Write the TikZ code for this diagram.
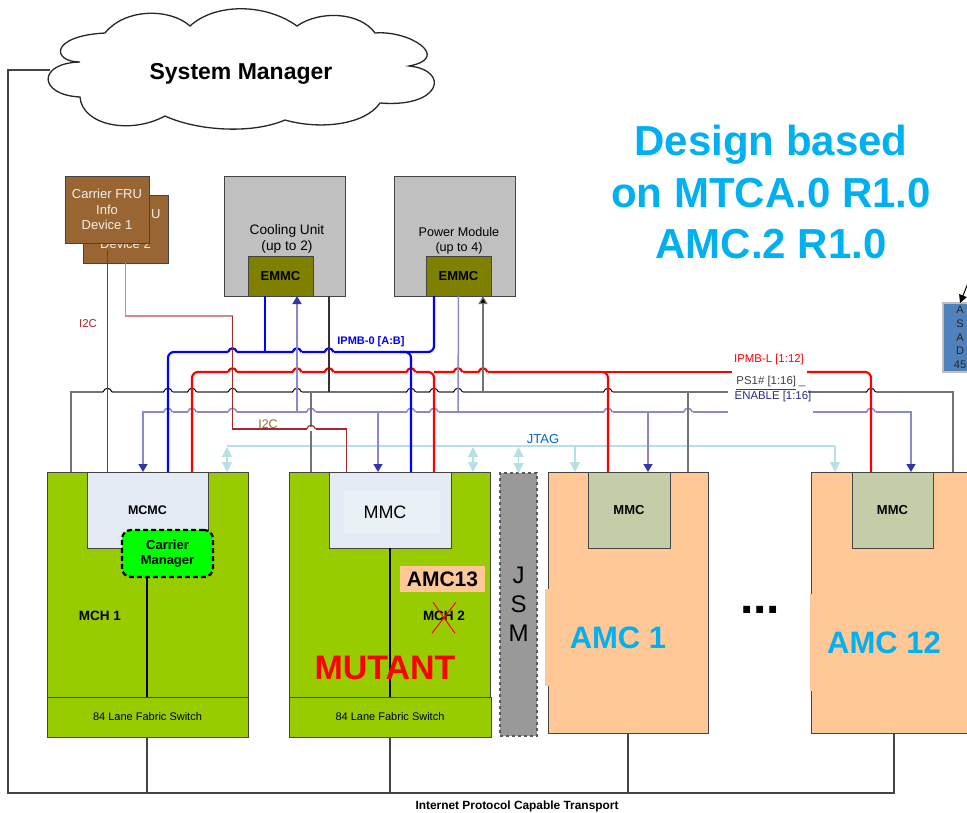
\documentclass[tikz,border=0pt]{standalone}
\usepackage{fontspec}
\setmainfont{Liberation Sans}
\usepackage{tikz}
\usetikzlibrary{arrows.meta}
\definecolor{mchgreen}{HTML}{99CC00}
\definecolor{amcpeach}{HTML}{FFC896}
\definecolor{frubrown}{HTML}{996633}
\definecolor{unitgrey}{HTML}{C0C0C0}
\definecolor{emmcolive}{HTML}{808000}
\definecolor{mcmcblue}{HTML}{E4EBF5}
\definecolor{mmcsage}{HTML}{C4CCA8}
\definecolor{edgegrey}{HTML}{444444}
\definecolor{enablepurple}{HTML}{8A8AC8}
\definecolor{enabletip}{HTML}{3535A5}
\definecolor{jtagblue}{HTML}{B8E0E4}
\definecolor{titlecyan}{HTML}{00B0F0}
\definecolor{asadblue}{HTML}{4F81BD}
\definecolor{i2cred}{HTML}{A82828}
\newcommand{\fsz}[1]{\fontsize{#1pt}{1.17\dimexpr#1pt\relax}\selectfont}
\newcommand{\hops}[3]{\foreach \hx in {#3} {\fill[white] (\hx-4.5,#2-1.7) rectangle (\hx+4.5,#2+1.7); \draw[#1] (\hx-4.5,#2) .. controls (\hx-2.5,#2-5) and (\hx+2.5,#2-5) .. (\hx+4.5,#2);}}
\tikzset{
  box/.style={draw=edgegrey, line width=1pt, inner sep=0pt, outer sep=0pt, align=center, font=\fsz{13}},
  plain/.style={inner sep=0pt, outer sep=0pt, align=center},
  mch/.style={box, fill=mchgreen},
  amc/.style={box, fill=amcpeach},
  ctrl/.style={box, font=\fsz{13}\bfseries},
  ipmbz/.style={draw=blue, line width=2.2pt, rounded corners=6pt},
  ipmbl/.style={draw=red, line width=2.2pt, rounded corners=6pt},
  psbus/.style={draw=gray!90!black, line width=1.2pt},
  enbus/.style={draw=enablepurple, line width=1.5pt},
  i2cline/.style={draw=i2cred, line width=1.2pt},
  hopgrey/.style={draw=black, line width=1pt},
  jtag/.style={draw=jtagblue, line width=1.2pt},
  lan/.style={draw=edgegrey, line width=1.8pt},
  fabric/.style={draw=black, line width=2.6pt},
  entip/.style={-{Triangle[length=8pt,width=9pt,fill=enabletip,color=enabletip]}},
  jtagdown/.style={-{Triangle[length=10pt,width=10pt,fill=jtagblue,color=jtagblue]}},
  jtagboth/.style={{Triangle[length=10pt,width=10pt,fill=jtagblue,color=jtagblue]}-{Triangle[length=10pt,width=10pt,fill=jtagblue,color=jtagblue]}},
}
\begin{document}
\begin{tikzpicture}[x=1pt,y=-1pt]
\useasboundingbox (0,0) rectangle (967,812);
\clip (0,0) rectangle (967,812);
\draw[line width=1.3pt, draw=black!85, fill=white] (80,62) .. controls (52,62) and (49,36) .. (105,33) .. controls (125,8) and (170,8) .. (190,26) .. controls (215,3) and (265,3) .. (297,26) .. controls (320,10) and (360,12) .. (375,33) .. controls (410,30) and (452,58) .. (409,66) .. controls (450,70) and (442,108) .. (380,103) .. controls (365,125) and (320,130) .. (285,120) .. controls (250,135) and (195,130) .. (165,116) .. controls (130,135) and (82,125) .. (80,97) .. controls (38,95) and (37,63) .. (80,62) -- cycle;
\node[plain, font=\fsz{23}\bfseries] (sysman) at (241,73.5) {System Manager};
\coordinate (cloudleft) at (50,70);
\node[plain, font=\fsz{42}\bfseries, text=titlecyan] (design) at (771,192) {Design based\\[2.5pt]on MTCA.0 R1.0\\[2.5pt]AMC.2 R1.0};

\node[box, fill=frubrown, minimum width=85, minimum height=68, text=white!90!frubrown] (frutwo) at (125.5,229) {Carrier FRU\\Info\\Device 2};
\node[box, fill=frubrown, minimum width=84, minimum height=67, text=white!90!frubrown] (fruone) at (107,209.5) {Carrier FRU\\Info\\Device 1};
\node[box, fill=unitgrey, minimum width=121, minimum height=120] (cool) at (284.5,236) {};
\node[plain, font=\fsz{13.7}] (coollbl) at (287,238.5) {Cooling Unit\\(up to 2)};
\node[ctrl, fill=emmcolive, minimum width=65, minimum height=40] (coolemmc) at (280.5,276) {EMMC};
\node[box, fill=unitgrey, minimum width=121, minimum height=120] (power) at (454.5,236) {};
\node[plain, font=\fsz{12.6}] (powerlbl) at (459,240.5) {Power Module\\(up to 4)};
\node[ctrl, fill=emmcolive, minimum width=65, minimum height=40] (poweremmc) at (458.5,276) {EMMC};

\node[mch, minimum width=201, minimum height=265] (mchone) at (147.5,604.5) {};
\node[mch, minimum width=201, minimum height=265] (mchtwo) at (390,604.5) {};
\node[box, fill=black!40, draw=gray!70!black, dashed, line width=1.2pt, minimum width=37, minimum height=263, font=\fsz{24}] (jsm) at (518.5,604.5) {J\\[1pt]S\\[1pt]M};
\node[amc, minimum width=160, minimum height=261] (amcone) at (628,602.5) {};
\node[amc, minimum width=166, minimum height=261] (amctwelve) at (894,602.5) {};
\node[box, fill=mcmcblue, minimum width=121, minimum height=76, font=\fsz{12.5}\bfseries] (mcmc) at (147.5,510) {MCMC};
\node[box, fill=mcmcblue, minimum width=122, minimum height=76] (mmctwo) at (390,510) {};
\node[plain, fill=white!60!mcmcblue!80!jtagblue, minimum width=96, minimum height=42, font=\fsz{18}] (mmctwotxt) at (392,512) {MMC\hspace{14pt}};
\node[ctrl, fill=mmcsage, minimum width=82, minimum height=76] (mmcone) at (629,510) {MMC};
\node[ctrl, fill=mmcsage, minimum width=81, minimum height=76] (mmctwelve) at (892.5,510) {MMC};
\node[mch, minimum width=201, minimum height=40, font=\fsz{11}] (swone) at (147.5,717) {84 Lane Fabric Switch};
\node[mch, minimum width=202, minimum height=40, font=\fsz{11}] (swtwo) at (390,717) {84 Lane Fabric Switch};
\node[box, fill=green, draw=black, dash pattern=on 5pt off 3pt, line width=2.2pt, rounded corners=9pt, minimum width=91, minimum height=47, font=\fsz{13}\bfseries] (carman) at (167.5,553.5) {Carrier\\Manager};
\draw[fabric] ([xshift=-20.5]carman.south) -- ([xshift=-0.5]swone.north);
\draw[fabric] (mmctwo.south) -- (swtwo.north);
\node[plain, font=\fsz{13.5}\bfseries] (mchonelbl) at (100,616) {MCH 1};
\node[plain, fill=amcpeach, minimum width=85, minimum height=26, font=\fsz{21}\bfseries] (amcthirteen) at (442.5,579) {AMC13};
\node[plain, font=\fsz{13.5}\bfseries] (mchtwolbl) at (444,616) {MCH 2};
\draw[red, line width=1pt] (mchtwolbl.north west) ++(10,-9) -- ++(22,31);
\draw[red, line width=1pt] (mchtwolbl.north west) ++(33,-9) -- ++(-24,31);
\node[plain, font=\fsz{34}\bfseries, text=red] (mutant) at (385,668) {MUTANT};
\node[plain, fill=amcpeach, minimum width=146, minimum height=97, font=\fsz{31}\bfseries, text=titlecyan] (amconelbl) at (618,637.5) {AMC 1};
\node[plain, fill=amcpeach, minimum width=148, minimum height=97, font=\fsz{31}\bfseries, text=titlecyan] (amctwelvelbl) at (884,642.5) {AMC 12};
\node[plain, anchor=base, font=\fsz{48}\bfseries] (dots) at (760,613) {...};

\node[box, fill=asadblue, draw=black!25, line width=2pt, minimum width=34, minimum height=69, font=\fsz{11}, text=black!85] (asad) at (960,337.5) {A\\[.8pt]S\\[.8pt]A\\[.8pt]D\\[.8pt]45};
\coordinate (asadin) at (968,283);
\draw[-{Triangle[length=8pt,width=8pt]}, draw=black, line width=1pt] (asadin) -- (asad.north);

\draw[jtag] (227,446) -- (835,446);
\draw[jtag, jtagboth] (227,447) -- ([xshift=79.5]mchone.north);
\draw[jtag, jtagboth] (473,447) -- ([xshift=83]mchtwo.north);
\draw[jtag, jtagboth] (518.5,447) -- (jsm.north);
\draw[jtag, jtagdown] (575,446) -- ([xshift=-53]amcone.north);
\draw[jtag, jtagdown] (835,446) -- ([xshift=-59]amctwelve.north);

\draw[psbus] ([xshift=-76.5]mchone.north) -- (71,392) -- (728,392);
\draw[psbus] (808,392) -- (953,392) -- ([xshift=59]amctwelve.north);
\draw[enbus, entip] (728,412) -- (143,412) -- ([xshift=-4.5]mchone.north);
\draw[enbus, entip] (813,412) -- (911,412) -- ([xshift=17]amctwelve.north);
\hops{hopgrey}{392}{107.5,168,192,232.5,297,411,434,458,608,871}
\hops{enbus}{412}{168,192,232.5,311,411,434,608,688,871}

\draw[ipmbz] ([xshift=20.5]mchone.north) -- (168,352) -- (434,352) -- ([xshift=-24.5]poweremmc.south);
\draw[ipmbz] (265,352) -- ([xshift=-15.5]coolemmc.south);
\hops{draw=blue, line width=2.2pt}{352}{232.5,297,329}
\draw[ipmbl] ([xshift=44.5]mchone.north) -- (192,372) -- (434,372) -- ([xshift=44]mchtwo.north);
\draw[ipmbl] (434,372) -- (608,372) -- ([xshift=-20]amcone.north);
\draw[ipmbl] (600,372) -- (732,372);
\draw[ipmbl] (807,372) -- (871,372) -- ([xshift=-23]amctwelve.north);
\hops{draw=red, line width=2.2pt}{372}{232.5,297,329,411,458,483}
\draw[ipmbz] (400,352) -- (411,352) -- ([xshift=21]mchtwo.north);

\draw[i2cline] ([xshift=.5,yshift=-7]fruone.south) -- ([xshift=-40]mchone.north);
\draw[i2cline, draw=i2cred!55, line width=1.5pt] (frutwo.south) -- (125.5,316) -- (232.5,316);
\draw[i2cline] (232.5,316) -- (232.5,429) -- (346.5,429) -- ([xshift=-43.5]mchtwo.north);
\draw[psbus, line width=1.5pt] (311,392) -- ([xshift=-79]mchtwo.north);
\hops{i2cline}{429}{311}
\draw[psbus, draw=black!80] (329,392) -- ([xshift=44.5]cool.south);
\draw[psbus, -{Triangle[length=8pt,width=9pt,fill=black]}] (483,392) -- ([xshift=24.5]poweremmc.south);
\draw[psbus] (688,392) -- ([xshift=60]amcone.north);
\draw[enbus, entip] (297,412) -- ([xshift=16.5]coolemmc.south);
\draw[enbus] (458,412) -- (poweremmc.south);
\draw[enbus, entip] (378,412) -- ([xshift=-12]mchtwo.north);
\draw[enbus, entip] (648,412) -- ([xshift=20]amcone.north);

\draw[lan] (amctwelve.south) -- (894,793) -- (8,793) -- (8,70) -- (cloudleft);
\draw[lan] ([xshift=-.5]swone.south) -- (147,793);
\draw[lan] (swtwo.south) -- (390,793);
\draw[lan] (amcone.south) -- (628,793);
\node[plain, font=\fsz{11.9}\bfseries] (transport) at (517,806) {Internet Protocol Capable Transport};

\node[plain, font=\fsz{11.4}, text=i2cred] (i2cone) at (88,324) {I2C};
\node[plain, font=\fsz{12.5}, text=frubrown] (i2ctwo) at (268,424) {I2C};
\node[plain, font=\fsz{11}\bfseries, text=blue] (ipmbzlbl) at (371,342) {IPMB-0 [A:B]};
\node[plain, font=\fsz{11.4}, text=red] (ipmbllbl) at (769,360) {IPMB-L [1:12]};
\node[plain, font=\fsz{11.4}, text=black!75] (pslbl) at (771,383) {\underline{PS1\# [1:16]} \_};
\node[plain, font=\fsz{11.4}, text=enabletip!80!black] (enablelbl) at (773,397) {ENABLE [1:16]};
\node[plain, font=\fsz{13}, text=blue!50!cyan!80!black] (jtaglbl) at (543,439) {JTAG};
\end{tikzpicture}
\end{document}
